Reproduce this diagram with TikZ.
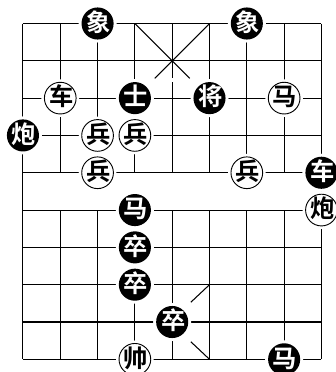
\documentclass[tikz,border=0pt]{standalone}
\usepackage{fontspec}
\newfontfamily\cjk{Noto Sans CJK SC}[BoldFont={Noto Sans CJK SC Bold}]
\usetikzlibrary{positioning}

\begin{document}
\begin{tikzpicture}[x=1cm,y=-1cm,
  gridl/.style={line width=0.8pt},
  blk/.style={circle,fill=black,text=white,minimum size=0.86cm,inner sep=0pt,font=\cjk\bfseries\fontsize{18.5}{18.5}\selectfont,text height=0.5cm,text depth=0.08cm,text width=0.6cm,align=center,preaction={draw=white,line width=4.5pt}},
  wht/.style={circle,draw=black,line width=0.7pt,fill=white,text=black,minimum size=0.85cm,inner sep=0pt,font=\cjk\bfseries\fontsize{18.5}{18.5}\selectfont,text height=0.5cm,text depth=0.08cm,text width=0.6cm,align=center,preaction={draw=white,line width=4.5pt}}]
\useasboundingbox (-0.615,-0.63) rectangle (8.37,9.34);
% board
\foreach \r in {0,1,2,3,4,5,6,7,8,9} \draw[gridl] (0,\r)--(8,\r);
\foreach \c in {1,2,3,5,6,7} {\draw[gridl] (\c,0)--(\c,4); \draw[gridl] (\c,5)--(\c,9);}
\draw[gridl] (0,0)--(0,9); \draw[gridl] (8,0)--(8,9);
\draw[gridl] (4,0)--(4,1.47); \draw[gridl] (4,1.58)--(4,4); \draw[gridl] (4,5)--(4,9);
\draw[gridl] (3,0)--(4.47,1.47); \draw[gridl] (5,0)--(3.53,1.47);
\draw[gridl] (5,7)--(4.5,7.47); \draw[gridl] (4.5,8.53)--(5,9);
% pieces
\node[blk] (xiangl) at (2,0) {象};
\node[blk] (xiangr) at (6,0) {象};
\node[wht] (chew) at (1,2) {车};
\node[blk] (shi) at (3,2) {士};
\node[blk] (jiang) at (5,2) {将};
\node[wht] (maw) at (7,2) {马};
\node[blk] (paob) at (0,3) {炮};
\node[wht] (binga) at (2,3) {兵};
\node[wht] (bingb) at (3,3) {兵};
\node[wht] (bingc) at (2,4) {兵};
\node[wht] (bingd) at (6,4) {兵};
\node[blk] (cheb) at (8,4) {车};
\node[blk] (maa) at (3,5) {马};
\node[wht] (paow) at (8,5) {炮};
\node[blk] (zua) at (3,6) {卒};
\node[blk] (zub) at (3,7) {卒};
\node[blk] (zuc) at (4,8) {卒};
\node[wht] (shuai) at (3,9) {帅};
\node[blk] (mab) at (7,9) {马};
\end{tikzpicture}
\end{document}
